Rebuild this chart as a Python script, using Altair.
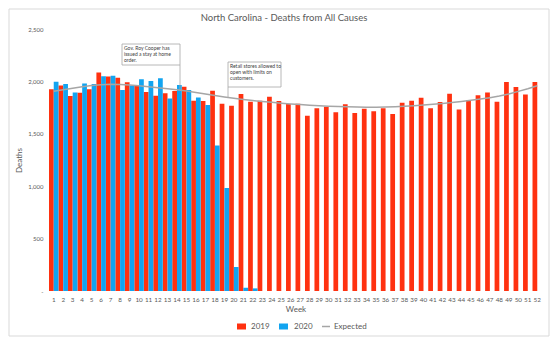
import altair as alt
import pandas as pd

weeks = list(range(1, 53))
deaths_2019 = [1924, 1962, 1860, 1892, 1924, 2086, 2046, 2036, 1991, 1965,
               1898, 1863, 1886, 1908, 1949, 1816, 1813, 1911, 1787, 1768,
               1879, 1806, 1816, 1854, 1813, 1784, 1787, 1673, 1743, 1759,
               1705, 1781, 1698, 1740, 1714, 1743, 1689, 1797, 1816, 1845,
               1743, 1803, 1883, 1733, 1819, 1867, 1895, 1806, 1994, 1946,
               1876, 1994]
deaths_2020 = [1997, 1975, 1895, 1981, 1975, 2048, 2055, 1918, 1962, 2020,
               2003, 2029, 1837, 1965, 1918, 1846, 1775, 1388, 983, 229,
               31, 25]
expected = [1905, 1920, 1935, 1948, 1960, 1968, 1972, 1970, 1965, 1958,
            1950, 1940, 1930, 1920, 1908, 1895, 1880, 1866, 1852, 1839,
            1827, 1817, 1808, 1800, 1792, 1785, 1779, 1773, 1768, 1764,
            1760, 1757, 1755, 1754, 1754, 1756, 1759, 1763, 1768, 1774,
            1781, 1789, 1798, 1808, 1819, 1831, 1845, 1860, 1880, 1905,
            1930, 1958]
years = ["2019", "2020"]
colors = ["#FF3110", "#12A4F0"]
line_color = "#A6A6A6"
text_color = "#595959"
FONT = "Lato"
TITLE = "North Carolina - Deaths from All Causes"

bars_df = pd.DataFrame({
    "week": weeks + weeks[:len(deaths_2020)],
    "year": ["2019"] * len(deaths_2019) + ["2020"] * len(deaths_2020),
    "deaths": deaths_2019 + deaths_2020,
})
exp_df = pd.DataFrame({"week": weeks, "deaths": expected})

x_enc = alt.X("week:O", scale=alt.Scale(domain=weeks, paddingInner=0, paddingOuter=0),
              axis=alt.Axis(title="Week", labelAngle=0, labelFontSize=6.3, labelPadding=5,
                            ticks=False, domain=False, labelColor=text_color,
                            titleColor=text_color, titleFontSize=8, titleFontWeight="normal",
                            titlePadding=3, labelOverlap=False, labelFont=FONT, titleFont=FONT))
y_enc = alt.Y("deaths:Q", scale=alt.Scale(domain=[0, 2500], nice=False),
              axis=alt.Axis(title="Deaths", values=[0, 500, 1000, 1500, 2000, 2500],
                            labelExpr="datum.value == 0 ? '-' : format(datum.value, ',')",
                            grid=False, domain=False, ticks=False, labelPadding=6,
                            labelFontSize=6, labelColor=text_color, titleColor=text_color,
                            titleFontSize=8, titleFontWeight="normal", titlePadding=4,
                            labelFont=FONT, titleFont=FONT))

bars = alt.Chart(bars_df).mark_bar().encode(
    x=x_enc,
    xOffset=alt.XOffset("year:N", scale=alt.Scale(domain=years, paddingInner=0, paddingOuter=0)),
    y=y_enc,
    color=alt.Color("year:N", scale=alt.Scale(domain=years, range=colors), legend=None),
)

line = alt.Chart(exp_df).mark_line(color=line_color, strokeWidth=1.5).encode(
    x="week:O", y="deaths:Q"
)

one = pd.DataFrame({"k": [0]})

# frame
frame = alt.Chart(one).mark_rect(fill="transparent", stroke="#D9D9D9", strokeWidth=1).encode(
    x=alt.value(-40), x2=alt.value(500), y=alt.value(-20), y2=alt.value(307))

# title
title = alt.Chart(one).mark_text(align="center", baseline="middle", fontSize=9.5, font=FONT,
                                 color=text_color).encode(
    x=alt.value(235), y=alt.value(-11), text=alt.value(TITLE))

# annotation 1
box1 = alt.Chart(one).mark_rect(fill="white", stroke="#A6A6A6", strokeWidth=0.8).encode(
    x=alt.value(73), x2=alt.value(131), y=alt.value(15), y2=alt.value(36))
lead1 = alt.Chart(one).mark_rule(color="#A6A6A6", strokeWidth=0.8).encode(
    x=alt.value(131), y=alt.value(36), y2=alt.value(62))
txt1 = alt.Chart(one).mark_text(align="left", baseline="top", fontSize=5, font=FONT,
                                color="#404040", lineHeight=6.2).encode(
    x=alt.value(75), y=alt.value(17),
    text=alt.value(["Gov. Roy Cooper has", "issued a stay at home", "order."]))

# annotation 2
box2 = alt.Chart(one).mark_rect(fill="white", stroke="#A6A6A6", strokeWidth=0.8).encode(
    x=alt.value(179), x2=alt.value(232), y=alt.value(33), y2=alt.value(58))
lead2 = alt.Chart(one).mark_rule(color="#A6A6A6", strokeWidth=0.8).encode(
    x=alt.value(179), y=alt.value(58), y2=alt.value(68))
txt2 = alt.Chart(one).mark_text(align="left", baseline="top", fontSize=5, font=FONT,
                                color="#404040", lineHeight=6.2).encode(
    x=alt.value(181), y=alt.value(35),
    text=alt.value(["Retail stores allowed to", "open with limits on", "customers."]))

# legend
leg_y = 297.5
leg_r1 = alt.Chart(one).mark_rect(color=colors[0]).encode(
    x=alt.value(188), x2=alt.value(197), y=alt.value(leg_y - 3), y2=alt.value(leg_y + 3))
leg_t1 = alt.Chart(one).mark_text(align="left", baseline="middle", fontSize=8, font=FONT,
                                  color=text_color).encode(
    x=alt.value(202), y=alt.value(leg_y), text=alt.value("2019"))
leg_r2 = alt.Chart(one).mark_rect(color=colors[1]).encode(
    x=alt.value(230), x2=alt.value(239), y=alt.value(leg_y - 3), y2=alt.value(leg_y + 3))
leg_t2 = alt.Chart(one).mark_text(align="left", baseline="middle", fontSize=8, font=FONT,
                                  color=text_color).encode(
    x=alt.value(245), y=alt.value(leg_y), text=alt.value("2020"))
leg_l3 = alt.Chart(one).mark_rule(color=line_color, strokeWidth=1.5).encode(
    x=alt.value(273), x2=alt.value(281), y=alt.value(leg_y))
leg_t3 = alt.Chart(one).mark_text(align="left", baseline="middle", fontSize=8, font=FONT,
                                  color=text_color).encode(
    x=alt.value(285), y=alt.value(leg_y), text=alt.value("Expected"))

chart = alt.layer(
    frame, bars, line, title, lead1, box1, txt1, lead2, box2, txt2,
    leg_r1, leg_t1, leg_r2, leg_t2, leg_l3, leg_t3
).properties(
    width=493, height=262,
    autosize=alt.AutoSizeParams(type="none"),
    padding={"left": 49, "top": 29, "right": 8, "bottom": 48},
    background="white",
).configure_view(stroke="transparent")

chart.save("out.html", embed_options={"renderer": "svg", "actions": False})
